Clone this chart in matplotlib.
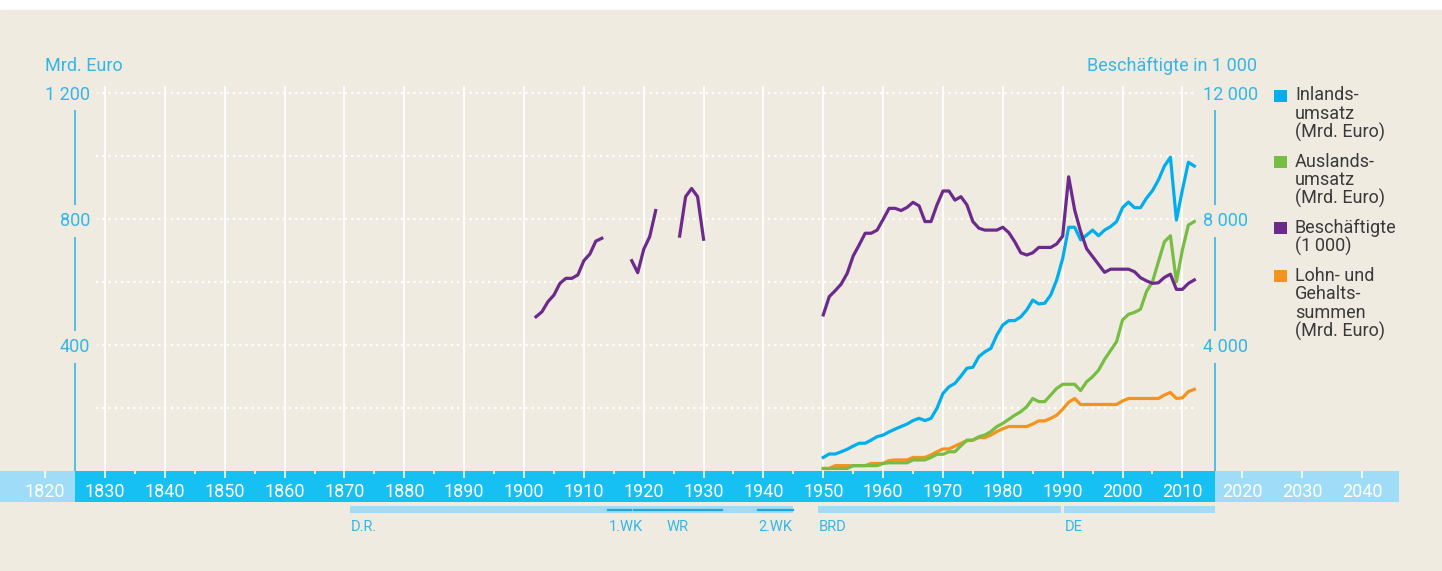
import numpy as np
import matplotlib.pyplot as plt
from matplotlib.patches import Rectangle
from matplotlib.transforms import blended_transform_factory

plt.rcParams['font.family'] = ['Roboto', 'DejaVu Sans']

# --- data ---------------------------------------------------------------
jahre = np.arange(1950, 2013)

inlandsumsatz = [  # Mrd. Euro
    43, 54, 54, 61, 69, 79, 88, 88, 98, 109,
    114, 124, 133, 141, 149, 160, 167, 160, 167, 199,
    246, 267, 278, 301, 326, 329, 363, 378, 389, 431,
    463, 477, 477, 489, 511, 542, 530, 532, 558, 606,
    674, 773, 773, 733, 748, 764, 746, 764, 775, 791,
    835, 853, 835, 835, 865, 889, 923, 967, 995, 796,
    891, 979, 967,
]
auslandsumsatz = [  # Mrd. Euro
    8, 8, 8, 8, 8, 17, 17, 17, 17, 17,
    24, 26, 26, 26, 26, 35, 35, 35, 43, 53,
    53, 61, 61, 80, 98, 98, 109, 114, 125, 141,
    151, 164, 177, 188, 204, 230, 220, 220, 241, 262,
    275, 275, 275, 255, 283, 299, 320, 354, 382, 410,
    479, 497, 503, 513, 569, 600, 664, 727, 746, 600,
    701, 780, 791,
]
lohnsummen = [  # Mrd. Euro
    8, 8, 17, 17, 17, 17, 17, 17, 24, 24,
    24, 33, 35, 35, 35, 43, 43, 43, 51, 61,
    70, 70, 79, 88, 96, 98, 106, 106, 114, 125,
    134, 141, 141, 141, 141, 149, 159, 159, 167, 177,
    196, 218, 230, 211, 211, 211, 211, 211, 211, 211,
    222, 230, 230, 230, 230, 230, 230, 241, 249, 230,
    232, 252, 259,
]
beschaeftigte = [  # in 1 000
    4950, 5530, 5720, 5930, 6270, 6820, 7170, 7540, 7540, 7640,
    7980, 8330, 8330, 8260, 8360, 8520, 8410, 7910, 7910, 8440,
    8880, 8880, 8590, 8700, 8440, 7910, 7700, 7640, 7640, 7640,
    7730, 7560, 7270, 6920, 6850, 6920, 7090, 7090, 7090, 7200,
    7450, 9330, 8280, 7590, 7050, 6800, 6550, 6300, 6400, 6400,
    6400, 6400, 6320, 6130, 6030, 5950, 5970, 6140, 6240, 5760,
    5760, 5950, 6060,
]

jahre_frueh = np.arange(1902, 1931)
nan = np.nan
beschaeftigte_frueh = [  # in 1 000, Luecken im Krieg / Inflation
    4890, 5050, 5370, 5580, 5950, 6110, 6110, 6220, 6670, 6880,
    7290, 7380, nan, nan, nan, nan, 6670, 6290, 7030, 7430,
    8260, nan, nan, nan, 7450, 8700, 8960, 8700, 7350,
]

perioden = [("D.R.", 1871, 1945), ("BRD", 1949.2, 1989.7), ("DE", 1990.3, 2015.4)]
ereignisse = [("1.WK", 1914.1, 1917.8), ("WR", 1918.4, 1933.0), ("2.WK", 1939.1, 1945.0)]

legend_labels = [
    "Inlands-\numsatz\n(Mrd. Euro)",
    "Auslands-\numsatz\n(Mrd. Euro)",
    "Beschäftigte\n(1\u2009000)",
    "Lohn- und\nGehalts-\nsummen\n(Mrd. Euro)",
]

# --- style --------------------------------------------------------------
bg = "#efebe1"
band_dark = "#17c0f2"
band_light = "#9edcf7"
txt_blue = "#35b6e7"
c_inland = "#00aeef"
c_ausland = "#77bd43"
c_besch = "#6c2a8d"
c_lohn = "#f6921e"
legend_colors = [c_inland, c_ausland, c_besch, c_lohn]
fs = 13

W, H = 1442, 571


def fx(px):
    return px / W


def fy(py):
    return 1 - py / H


fig = plt.figure(figsize=(W / 100, H / 100), dpi=100)
fig.patch.set_facecolor("white")
fig.patches.append(Rectangle((0, 0), 1, fy(10), transform=fig.transFigure,
                             color=bg, zorder=-10))

# main plot area
ax = fig.add_axes([fx(75), fy(471), fx(1215) - fx(75), fy(86.3) - fy(471)])
ax.set_facecolor("none")
ax.set_xlim(1824.98, 2015.45)
ax.set_ylim(0, 1220)
ax.set_axisbelow(True)

ax.set_xticks(range(1830, 2011, 10))
ax.tick_params(axis="x", length=0, labelbottom=False)
ax.grid(axis="x", color="white", lw=1.3)

ax.hlines(range(200, 1201, 200), 1828.5, 2012.4, colors="white",
          linestyles=(0, (1.0, 1.8)), lw=1.6, zorder=0.8)

for s in ["top", "bottom", "right"]:
    ax.spines[s].set_visible(False)
ax.spines["left"].set_color(txt_blue)
ax.spines["left"].set_linewidth(1.2)
ax.spines["left"].set_bounds(0, 1160)

ax.set_yticks([400, 800, 1200], ["400", "800", "1 200"])
ax.tick_params(axis="y", length=0, pad=-10.8, labelcolor=txt_blue, labelsize=fs)
ax.yaxis.set_zorder(3)
for t in ax.get_yticklabels():
    t.set_bbox(dict(facecolor=bg, edgecolor="none", pad=5))

ax.plot(jahre, lohnsummen, color=c_lohn, lw=2.3, zorder=2)
ax.plot(jahre, auslandsumsatz, color=c_ausland, lw=2.3, zorder=2)
ax.plot(jahre, inlandsumsatz, color=c_inland, lw=2.3, zorder=2)

# employees on the right-hand scale
ax2 = ax.twinx()
ax2.set_ylim(0, 12200)
for s in ["top", "bottom", "left"]:
    ax2.spines[s].set_visible(False)
ax2.spines["right"].set_color(txt_blue)
ax2.spines["right"].set_linewidth(1.2)
ax2.spines["right"].set_bounds(0, 11600)
ax2.set_yticks([4000, 8000, 12000], ["4 000", "8 000", "12 000"])
ax2.tick_params(axis="y", length=0, pad=-8.6, labelcolor=txt_blue, labelsize=fs)
ax2.yaxis.set_zorder(3)
for t in ax2.get_yticklabels():
    t.set_bbox(dict(facecolor=bg, edgecolor="none", pad=5))

ax2.plot(jahre, beschaeftigte, color=c_besch, lw=2.3)
ax2.plot(jahre_frueh, beschaeftigte_frueh, color=c_besch, lw=2.3)

# year band
bx = fig.add_axes([0, fy(502), fx(1399), fy(471) - fy(502)])
bx.set_facecolor(band_light)
bx.set_xlim(1812.45, 2046.19)
bx.set_ylim(0, 1)
bx.axvspan(1824.98, 2015.45, color=band_dark, lw=0)
for s in bx.spines.values():
    s.set_visible(False)
bx.set_yticks([])
bx.set_xticks(range(1820, 2041, 10), [str(y) for y in range(1820, 2041, 10)])
bx.set_xticks(range(1835, 2006, 10), minor=True)
bx.tick_params(axis="x", which="both", top=True, bottom=False, direction="in",
               color="white", width=1.2, labelbottom=True, labelcolor="white",
               labelsize=fs, pad=-13.6)
bx.tick_params(axis="x", which="major", length=5)
bx.tick_params(axis="x", which="minor", length=2.5)

# historical periods below the band
tr = blended_transform_factory(bx.transData, fig.transFigure)
for name, start, end in perioden:
    fig.patches.append(Rectangle((start, fy(513.3)), end - start, fy(506) - fy(513.3),
                                 transform=tr, color=band_light, lw=0))
    fig.text(start, fy(527), name, transform=tr, ha="left", va="center",
             color=txt_blue, fontsize=10.5)
for name, start, end in ereignisse:
    fig.lines.append(plt.Line2D([start, end], [fy(509.5), fy(509.5)], transform=tr,
                                color="#1fa8e0", lw=1.6))
    if name == "WR":
        fig.text((start + end) / 2, fy(527), name, transform=tr, ha="center",
                 va="center", color=txt_blue, fontsize=10.5)
    else:
        fig.text(start, fy(527), name, transform=tr, ha="left", va="center",
                 color=txt_blue, fontsize=10.5)

# axis titles
fig.text(fx(45), fy(66), "Mrd. Euro", ha="left", va="center", color=txt_blue, fontsize=fs)
fig.text(fx(1257), fy(66), "Beschäftigte in 1 000", ha="right", va="center",
         color=txt_blue, fontsize=fs)

# legend
line_h = 18.3
gap = 11.4
y = 95.5
for label, col in zip(legend_labels, legend_colors):
    fig.patches.append(Rectangle((fx(1274), fy(y + 6)), fx(12.5), fy(y - 6) - fy(y + 6),
                                 transform=fig.transFigure, color=col, lw=0))
    for line in label.split("\n"):
        fig.text(fx(1295), fy(y), line, ha="left", va="center", color="#3a3a3a",
                 fontsize=fs)
        y += line_h
    y += gap

fig.savefig("out.png", dpi=100, facecolor=fig.get_facecolor())
